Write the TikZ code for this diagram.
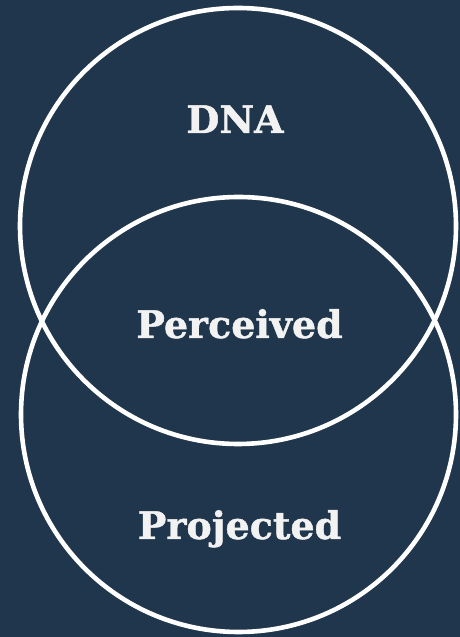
\documentclass[tikz,border=0pt]{standalone}
\usepackage{fontspec}
\setmainfont{DejaVu Serif}[BoldFeatures={FakeBold=1.2}]
\definecolor{navy}{HTML}{1F364C}
\definecolor{labeltext}{HTML}{F2F2F2}
\begin{document}
\begin{tikzpicture}[x=1pt,y=1pt,
  ring/.style={draw=white, line width=4.6pt, circle, minimum size=#1, inner sep=0pt},
  label/.style={text=labeltext, font=\fontsize{38}{40}\selectfont\bfseries, inner sep=0pt, anchor=base}]
  % background
  \fill[navy] (0,0) rectangle (460,637);
  \useasboundingbox (0,0) rectangle (460,637);
  % the two overlapping rings
  \node[ring=436pt] (dna) at (238,411) {};
  \node[ring=435pt] (proj) at (238.5,222.5) {};
  % labels
  \node[label] (tdna) at (235,504) {DNA};
  \node[label] (tper) at (239.5,299) {Perceived};
  \node[label] (tpro) at (239.5,98) {Projected};
\end{tikzpicture}
\end{document}
